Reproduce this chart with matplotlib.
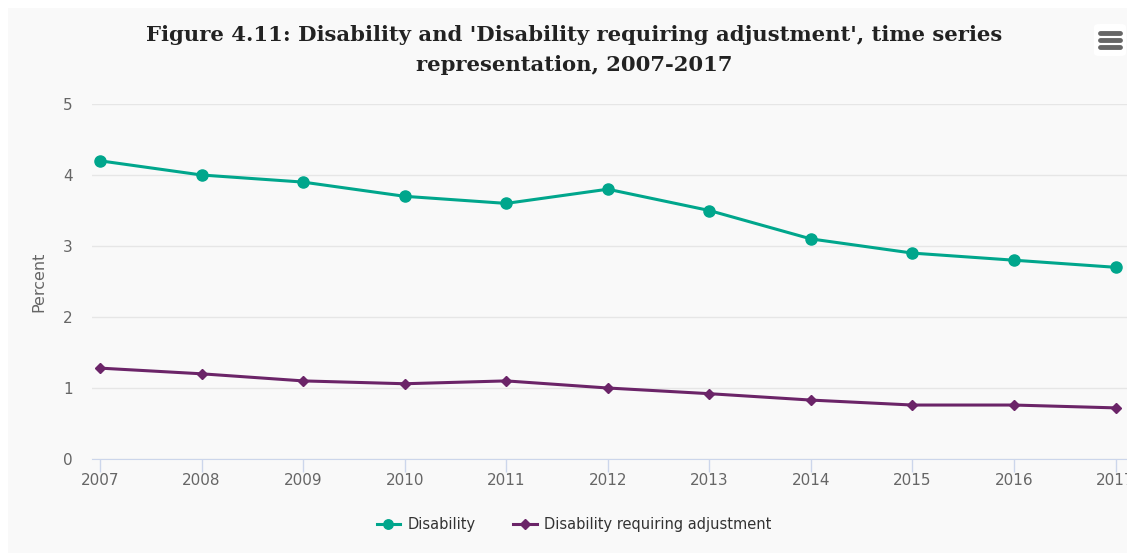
import matplotlib.pyplot as plt
from matplotlib.patches import Rectangle, FancyBboxPatch
from matplotlib.lines import Line2D

# data
years = [2007, 2008, 2009, 2010, 2011, 2012, 2013, 2014, 2015, 2016, 2017]
disability = [4.2, 4.0, 3.9, 3.7, 3.6, 3.8, 3.5, 3.1, 2.9, 2.8, 2.7]
adjustment = [1.28, 1.2, 1.1, 1.06, 1.1, 1.0, 0.92, 0.83, 0.76, 0.76, 0.72]
y_ticks = [0, 1, 2, 3, 4, 5]

teal = "#00a68c"
purple = "#6b2468"

fig = plt.figure(figsize=(11.27, 5.53), dpi=100)
fig.patch.set_facecolor("white")
# light grey chart background with a thin white border
fig.patches.append(Rectangle((8 / 1127, 0), 1, 1 - 8 / 553, transform=fig.transFigure,
                             facecolor="#f9f9f9", edgecolor="none", zorder=-10))

ax = fig.add_axes([92 / 1127, 1 - 459 / 553, 1 - 92 / 1127 + 0.02, (459 - 104) / 553])
ax.set_facecolor("none")

ax.plot(years, disability, color=teal, lw=2.2, marker="o", ms=8, label="Disability",
        clip_on=False, zorder=3)
ax.plot(years, adjustment, color=purple, lw=2.2, marker="D", ms=5.5,
        label="Disability requiring adjustment", clip_on=False, zorder=3)

ax.set_xlim(2007 - 8 / 101.5, 2007 + (1127 + 22 - 100) / 101.5)
ax.set_ylim(0, 5)
ax.set_xticks(years)
ax.set_yticks(y_ticks)
ax.grid(axis="y", color="#e6e6e6", lw=1)
ax.set_axisbelow(True)
for s in ["top", "right", "left"]:
    ax.spines[s].set_visible(False)
ax.spines["bottom"].set_color("#ccd6eb")
ax.tick_params(axis="x", colors="#ccd6eb", length=9, width=1, labelcolor="#666666",
               labelsize=11, pad=1)
ax.tick_params(axis="y", length=0, labelcolor="#666666", labelsize=11, pad=14)
ax.set_ylabel("Percent", color="#666666", fontsize=11.5, labelpad=12)

fig.suptitle("Figure 4.11: Disability and 'Disability requiring adjustment', time series\n"
             "representation, 2007-2017", x=574 / 1127, y=1 - 25 / 553, va="top",
             fontsize=15.2, fontweight="bold", family="DejaVu Serif", color="#222222",
             linespacing=1.65)

# menu icon
fig.patches.append(FancyBboxPatch((1094 / 1127, 1 - 56 / 553), 32 / 1127, 32 / 553,
                                  boxstyle="round,pad=0,rounding_size=0.005",
                                  transform=fig.transFigure, facecolor="white",
                                  edgecolor="none", zorder=-5))
for yy in [33, 40, 47]:
    fig.add_artist(Line2D([1100 / 1127, 1120 / 1127], [1 - yy / 553] * 2,
                          color="#666666", lw=3.5, solid_capstyle="round"))

fig.legend(loc="center", bbox_to_anchor=(574 / 1127, 1 - 525 / 553), ncol=2,
           frameon=False, fontsize=10.5, handlelength=1.6, handletextpad=0.5,
           columnspacing=2.6, labelcolor="#333333", markerscale=0.85)

fig.savefig("out.png", dpi=100, facecolor=fig.get_facecolor())
